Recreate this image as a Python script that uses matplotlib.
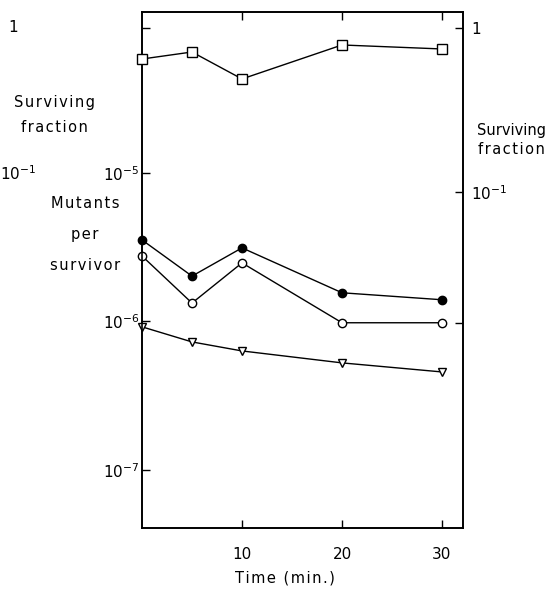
import numpy as np
import matplotlib
matplotlib.use("Agg")
import matplotlib.pyplot as plt
from matplotlib.ticker import NullLocator, FixedLocator, NullFormatter

plt.rcParams['font.family'] = ['DejaVu Sans']
plt.rcParams['mathtext.fontset'] = 'dejavusans'

# data
time_min = [0, 5, 10, 20, 30]
surviving = [0.647, 0.714, 0.489, 0.788, 0.745]
mutants_filled = [3.54e-6, 2.02e-6, 3.13e-6, 1.56e-6, 1.40e-6]
mutants_open = [2.76e-6, 1.33e-6, 2.48e-6, 9.8e-7, 9.8e-7]
mutants_tri = [9.2e-7, 7.28e-7, 6.33e-7, 5.26e-7, 4.57e-7]

x_ticks = [10, 20, 30]
mut_ticks = [1e-5, 1e-6, 1e-7]
mut_labels = [r'$10^{-5}$', r'$10^{-6}$', r'$10^{-7}$']
surv_ticks = [1, 0.1]
surv_labels = ['1', r'$10^{-1}$']


def spaced(s):
    # hair spaces between letters, like the loose typesetting of the original
    return '\u200a'.join(s)


fig = plt.figure(figsize=(5.53, 5.91), dpi=100)
ax = fig.add_axes([142 / 553, 63 / 591, 321 / 553, 516 / 591])

ax.set_yscale('log')
ax.set_xlim(0, 32.1)
ax.set_ylim(10 ** -7.391, 10 ** -3.916)

lw = 1.0
ax.plot(time_min, mutants_filled, '-o', color='black', lw=lw, ms=6,
        mfc='black', mec='black', clip_on=False, zorder=3)
ax.plot(time_min, mutants_open, '-o', color='black', lw=lw, ms=6,
        mfc='white', mec='black', clip_on=False, zorder=3)
ax.plot(time_min, mutants_tri, '-v', color='black', lw=lw, ms=6,
        mfc='white', mec='black', clip_on=False, zorder=3)

ax.yaxis.set_major_locator(FixedLocator(mut_ticks))
ax.yaxis.set_minor_locator(FixedLocator([10 ** -4.024]))  # surviving fraction = 1 level
ax.yaxis.set_minor_formatter(NullFormatter())
ax.set_yticklabels(mut_labels)
ax.set_xticks(x_ticks)
ax.set_xticklabels([str(t) for t in x_ticks])
ax.tick_params(axis='both', which='both', direction='in', length=6, width=1,
               labelsize=11, top=True, right=False)
ax.tick_params(axis='x', which='minor', bottom=False, top=False)
ax.tick_params(axis='x', pad=14)
ax.tick_params(axis='y', pad=2)

ax2 = ax.twinx()
ax2.set_yscale('log')
ax2.set_ylim(10 ** -3.049, 10 ** 0.0976)
ax2.plot(time_min, surviving, '-s', color='black', lw=lw, ms=6.5,
         mfc='white', mec='black', clip_on=False, zorder=3)
ax2.yaxis.set_major_locator(FixedLocator(surv_ticks))
ax2.yaxis.set_minor_locator(FixedLocator([10 ** -1.799]))  # 10^-6 mutant level
ax2.yaxis.set_minor_formatter(NullFormatter())
ax2.set_yticklabels(surv_labels)
ax2.tick_params(axis='y', which='both', direction='in', length=6, width=1,
                labelsize=11, left=False, right=True, pad=6)

for a in (ax, ax2):
    for s in a.spines.values():
        s.set_linewidth(1.2)

txt = dict(fontsize=10.5, ha='center', va='center')
fig.text(54 / 553, 1 - 103 / 591, spaced('Surviving'), **txt)
fig.text(54 / 553, 1 - 128 / 591, spaced('fraction'), **txt)
fig.text(8 / 553, 1 - 28 / 591, '1', fontsize=11, ha='left', va='center')
fig.text(0, 1 - 174 / 591, r'$10^{-1}$', fontsize=11, ha='left', va='center')
fig.text(85 / 553, 1 - 203 / 591, spaced('Mutants'), **txt)
fig.text(85 / 553, 1 - 235 / 591, spaced('per'), **txt)
fig.text(85 / 553, 1 - 266 / 591, spaced('survivor'), **txt)
fig.text(511 / 553, 1 - 130 / 591, 'Surviving', **txt)
fig.text(511 / 553, 1 - 149 / 591, spaced('fraction'), **txt)
fig.text(285 / 553, 1 - 578 / 591, spaced('Time (min.)'), **txt)

fig.savefig('out.png', dpi=100)
